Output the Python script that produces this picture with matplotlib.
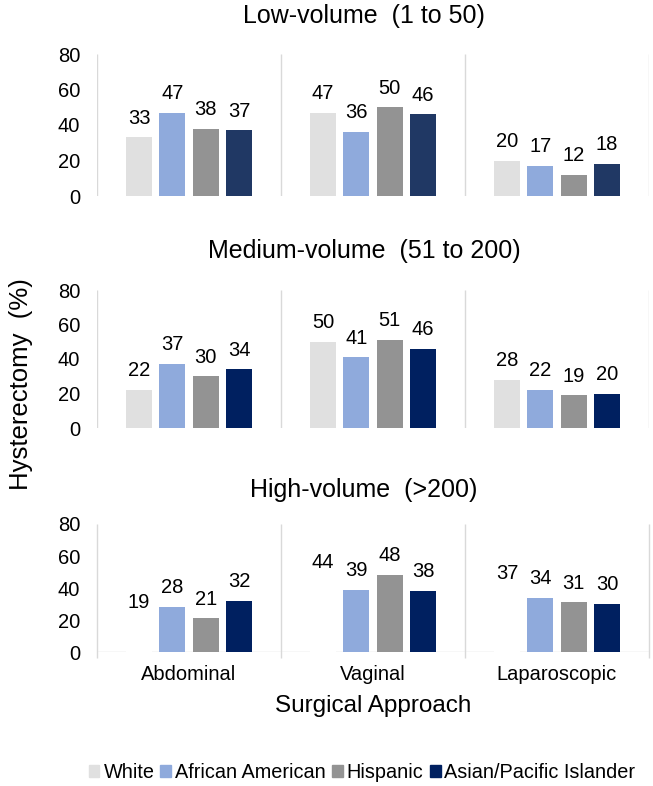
import numpy as np
import matplotlib
matplotlib.use("Agg")
import matplotlib.pyplot as plt
from matplotlib.patches import Patch

plt.rcParams["font.family"] = ["Liberation Sans", "DejaVu Sans"]

# Data
approaches = ["Abdominal", "Vaginal", "Laparoscopic"]
races = ["White", "African American", "Hispanic", "Asian/Pacific Islander"]
titles = ["Low-volume  (1 to 50)", "Medium-volume  (51 to 200)", "High-volume  (>200)"]

low_vol = [[33, 47, 38, 37],
           [47, 36, 50, 46],
           [20, 17, 12, 18]]
med_vol = [[22, 37, 30, 34],
           [50, 41, 51, 46],
           [28, 22, 19, 20]]
high_vol = [[19, 28, 21, 32],
            [44, 39, 48, 38],
            [37, 34, 31, 30]]
panels = [low_vol, med_vol, high_vol]

colors = [["#e0e0e0", "#8faadc", "#939393", "#203864"],
          ["#e0e0e0", "#8faadc", "#939393", "#002060"],
          ["#ffffff", "#8faadc", "#939393", "#002060"]]

# Axes boxes in pixels (top, bottom) for a 653x786 figure
W, H = 653, 786
x0, x1 = 97, 649
boxes = [(54, 196), (290, 428), (524, 652)]
title_y = [16, 251, 490]

fig = plt.figure(figsize=(6.53, 7.86), dpi=100)

bw = 0.14
pitch = 0.181
offsets = (np.arange(4) - 1.5) * pitch
grid_c = "#d9d9d9"

for p, data in enumerate(panels):
    top, bot = boxes[p]
    ax = fig.add_axes([x0 / W, 1 - bot / H, (x1 - x0) / W, (bot - top) / H])
    vals = np.array(data)
    for r in range(4):
        xs = np.arange(3) + offsets[r]
        ax.bar(xs, vals[:, r], width=bw, color=colors[p][r], zorder=3)
        for x, v in zip(xs, vals[:, r]):
            ax.annotate(str(v), (x, v), xytext=(0, 7), textcoords="offset points",
                        ha="center", va="bottom", fontsize=14.5, color="#000000")
    ax.set_xlim(-0.5, 2.5)
    ax.set_ylim(0, 80)
    ax.set_yticks(np.arange(0, 81, 20))
    ax.tick_params(axis="y", length=0, labelsize=14.5, pad=12)
    for s in ax.spines.values():
        s.set_visible(False)
    if p == 2:
        ax.vlines([-0.5, 0.5, 1.5, 2.5], -80 * 6 / (bot - top), 80, color=grid_c, lw=1,
                  clip_on=False, zorder=1)
        ax.axhline(0, color=grid_c, lw=1, zorder=1)
        ax.set_xticks(range(3))
        ax.set_xticklabels(approaches, fontsize=14.5)
        ax.tick_params(axis="x", length=0, pad=9)
    else:
        ax.vlines([-0.5, 0.5, 1.5, 2.5], 0, 80, color=grid_c, lw=1, zorder=1)
        ax.set_xticks([])
    fig.text(364 / W, 1 - title_y[p] / H, titles[p], ha="center",
             va="center", fontsize=18)

fig.text(373 / W, 1 - 706 / H, "Surgical Approach", ha="center", va="center", fontsize=17.5)
fig.text(21 / W, 1 - 384 / H, "Hysterectomy  (%)", ha="center", va="center",
         rotation=90, fontsize=18.5)

handles = [Patch(color=c) for c in ["#e0e0e0", "#8faadc", "#939393", "#002060"]]
fig.legend(handles, races, loc="center", bbox_to_anchor=(362 / W, 1 - 773 / H), ncol=4,
           frameon=False, fontsize=14.3, handlelength=0.55, handleheight=0.55,
           handletextpad=0.2, columnspacing=0.3)

fig.savefig("out.png", dpi=100)
